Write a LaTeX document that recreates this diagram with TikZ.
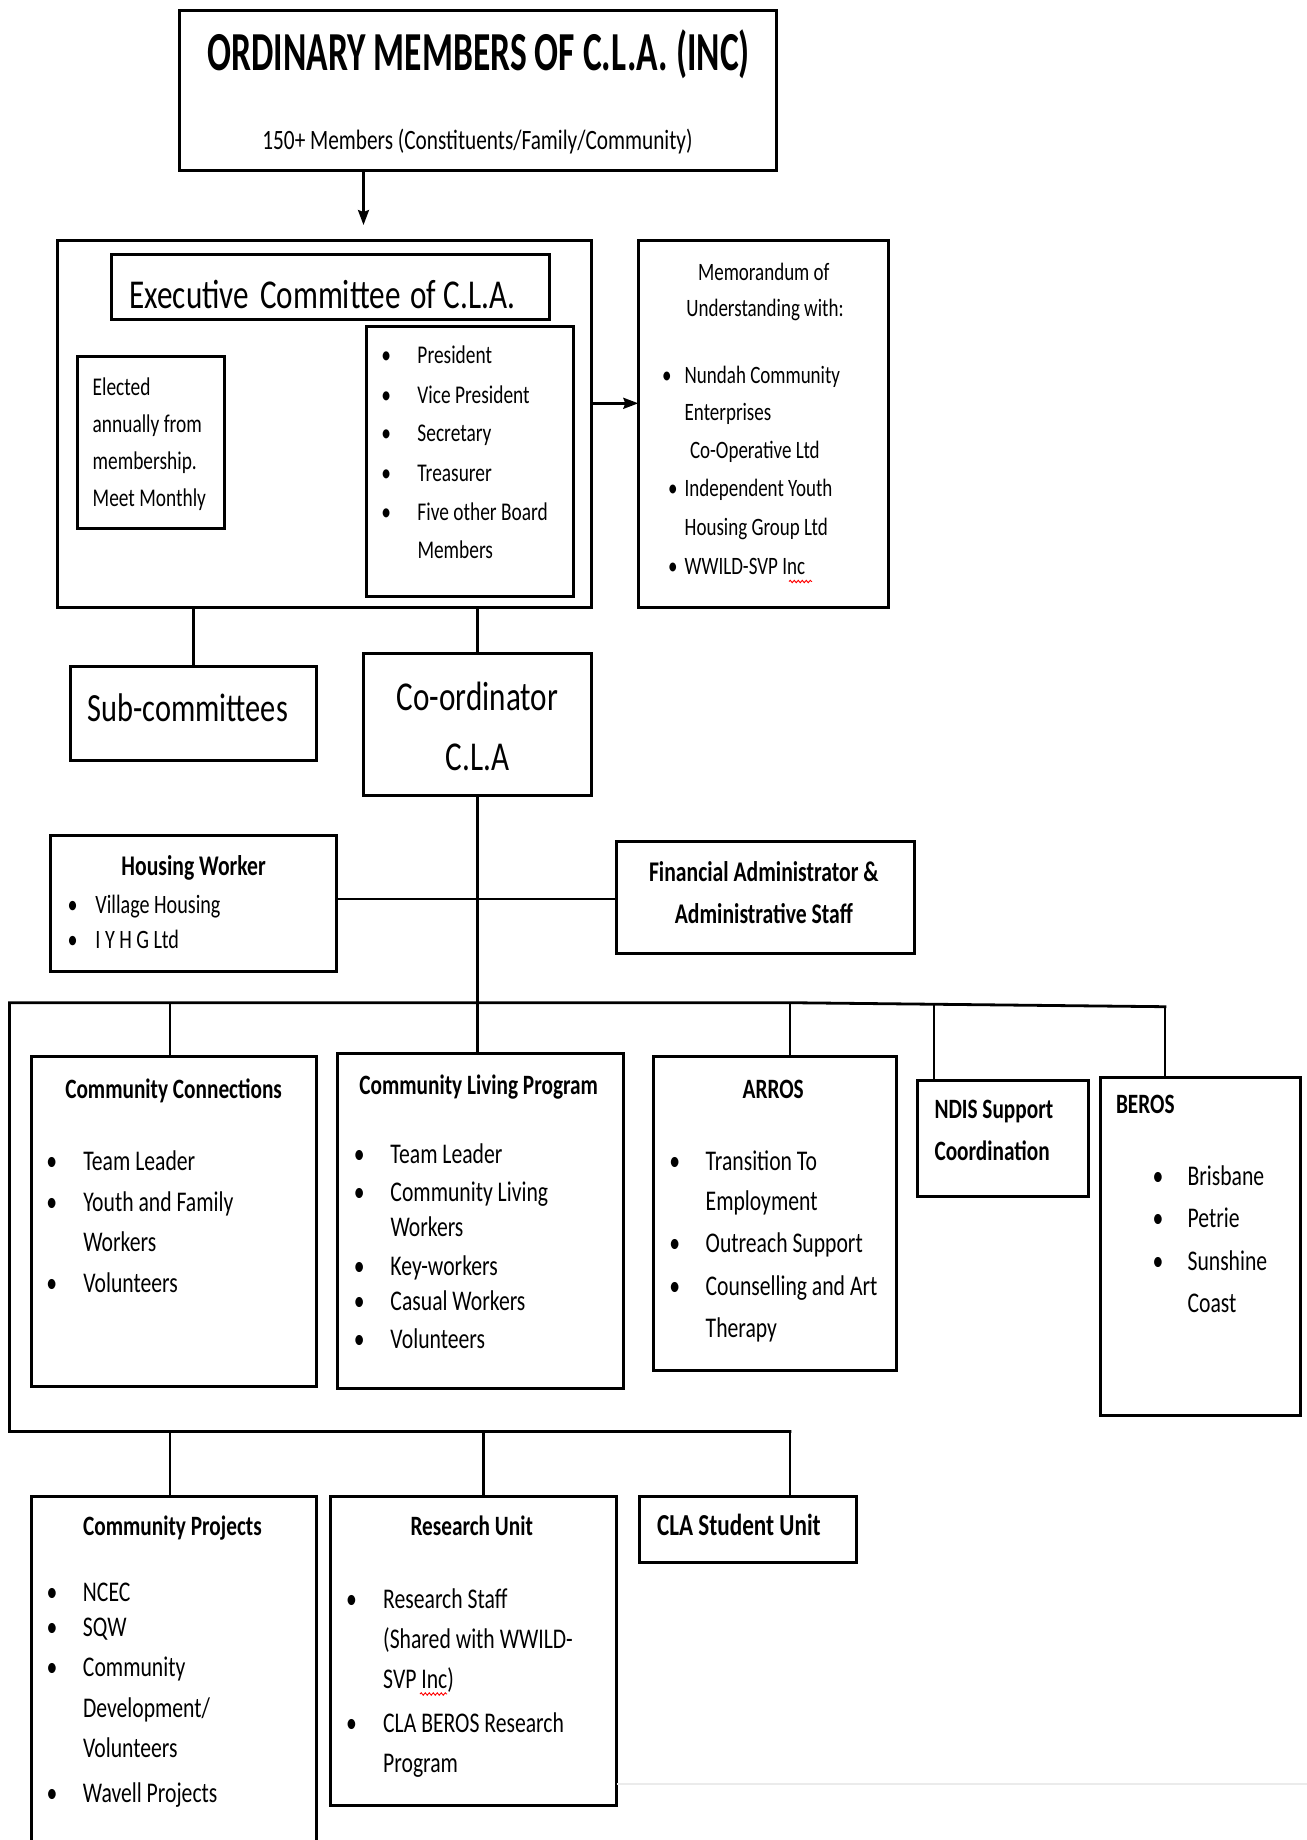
\documentclass[tikz,border=0pt]{standalone}
\usepackage{fontspec}
\usepackage{graphicx}
\setmainfont{Carlito}[FakeStretch=0.76]
\newfontfamily\titlefont{Carlito}[FakeStretch=0.645]
\usetikzlibrary{arrows.meta,decorations.pathmorphing}
\newcommand\fT{\fontsize{28.5}{30}\selectfont}
\newcommand\fH{\fontsize{28}{30}\selectfont\bfseries}
\newcommand\fS{\fontsize{25.5}{30}\selectfont}
\newcommand\fM{\fontsize{25}{30}\selectfont}
\newcommand\fL{\fontsize{41}{45}\selectfont}
\newcommand\mkbox[5]{\node[box, minimum width={#4-#2}, minimum height={#5-#3}] (#1) at (#2,#3) {};}
\newcommand\bli[6]{\node[tx, font=#6] (#1) at ({#2-5},#4) {\makebox[\dimexpr #3pt-#2pt+5pt\relax][l]{•}#5};}
\newcommand\tl[5]{\node[tx, font=#5] (#1) at (#2,#3) {#4};}
\newcommand\tc[5]{\node[tx, anchor=base, font=#5] (#1) at (#2,#3) {#4};}
\begin{document}
\begin{tikzpicture}[x=1pt,y=-1pt,
  box/.style={draw, line width=3pt, inner sep=0pt, outer sep=0pt, anchor=north west},
  tx/.style={inner sep=0pt, outer sep=0pt, anchor=base west},
  conn/.style={line width=2.4pt},
  bus/.style={line width=2.8pt, line cap=rect, line join=miter},
  arr/.style={-{Stealth[length=15pt,width=11pt,inset=2pt]}},
  squig/.style={red, line width=0.9pt, decorate, decoration={snake, amplitude=1.2pt, segment length=4pt}}]
\fill[white] (0,0) rectangle (1307,1840);
\useasboundingbox (0,0) rectangle (1307,1840);
% boxes
\mkbox{top}{179.5}{10.6}{776.7}{170.1}
\mkbox{exec}{57.5}{240.5}{591.3}{607.8}
\mkbox{exectitle}{111.5}{254.6}{549.1}{319.1}
\mkbox{elected}{77.4}{356.7}{224.1}{528}
\mkbox{officers}{366}{326.2}{573.7}{596}
\mkbox{mou}{638.3}{240.5}{888.2}{607.8}
\mkbox{sub}{70.4}{666.4}{316.8}{760.3}
\mkbox{coord}{363.7}{653.5}{591.3}{795.5}
\mkbox{housing}{50.5}{835.4}{336.7}{971.5}
\mkbox{fin}{616}{841.3}{914}{953.9}
\mkbox{cc}{31.7}{1056}{316.8}{1386.9}
\mkbox{clp}{337.9}{1053.6}{623}{1388}
\mkbox{arros}{653.5}{1056}{896.4}{1370.4}
\mkbox{ndis}{917.5}{1080.6}{1088.8}{1196.8}
\mkbox{beros}{1100.6}{1077}{1300}{1415}
\mkbox{cp}{31.7}{1496}{316.8}{1870}
\mkbox{ru}{330.9}{1496}{616}{1805}
\mkbox{stu}{639.5}{1496}{856.5}{1562.8}
% top
\node[tx, anchor=base, font={\titlefont\fontsize{55}{60}\bfseries}] (t0) at (478.7,70) {ORDINARY MEMBERS OF C.L.A. (INC)};
\tc{t1}{477.5}{149.3}{150+ Members (Constituents/Family/Community)}{\fontsize{28}{30}\selectfont}
% executive
\tl{t2}{129.5}{308.3}{Executive\hspace{4pt} Committee\hspace{3pt} of C.L.A.}{\fL}
\tl{e1}{92.7}{395}{Elected}{\fS}
\tl{e2}{92.7}{432.3}{annually from}{\fS}
\tl{e3}{92.7}{469.3}{membership.}{\fS}
\tl{e4}{92.7}{506.7}{Meet Monthly}{\fS}
\bli{o1}{386.4}{417.5}{363.3}{President}{\fS}
\bli{o2}{386.4}{417.5}{403.3}{Vice President}{\fS}
\bli{o3}{386.4}{417.5}{441}{Secretary}{\fS}
\bli{o4}{386.4}{417.5}{481.7}{Treasurer}{\fS}
\bli{o5}{386.4}{417.5}{520}{Five other Board}{\fS}
\tl{o6}{417.5}{558.3}{Members}{\fS}
% MOU
\tc{m1}{763.8}{280.7}{Memorandum of}{\fM}
\tc{m2}{765}{316}{Understanding with:}{\fM}
\bli{m3}{667.2}{684.7}{383.7}{Nundah Community}{\fM}
\tl{m4}{684.7}{420.9}{Enterprises}{\fM}
\tl{m5}{690}{458}{Co-Operative Ltd}{\fM}
\bli{m6}{673.2}{684.7}{496.9}{Independent Youth}{\fM}
\tl{m7}{684.7}{535.7}{Housing Group Ltd}{\fM}
\bli{m8}{673.2}{684.7}{574.6}{WWILD-SVP Inc}{\fM}
% sub / coordinator
\tc{s1}{187.7}{721}{Sub-committees}{\fontsize{40}{44}\selectfont}
\tc{c1}{477.5}{710}{Co-ordinator}{\fL}
\tc{c2}{477.5}{770}{C.L.A}{\fL}
% housing / finance
\tc{h1}{193.6}{875}{Housing Worker}{\fontsize{28.5}{30}\selectfont\bfseries}
\bli{h2}{72.7}{95.4}{913.3}{Village Housing}{\fontsize{26.5}{30}\selectfont}
\bli{h3}{72.7}{95.4}{948.3}{I Y H G Ltd}{\fontsize{26.5}{30}\selectfont}
\tc{f1}{763.8}{881.7}{Financial Administrator \&}{\fontsize{28.5}{30}\selectfont\bfseries}
\tc{f2}{763.8}{923.3}{Administrative Staff}{\fontsize{28.5}{30}\selectfont\bfseries}
% community connections
\tc{cc0}{173.6}{1098.3}{Community Connections}{\fH}
\bli{cc1}{51.3}{83.3}{1170}{Team Leader}{\fT}
\bli{cc2}{51.3}{83.3}{1211.7}{Youth and Family}{\fT}
\tl{cc3}{83.3}{1251.7}{Workers}{\fT}
\bli{cc4}{51.3}{83.3}{1292.7}{Volunteers}{\fT}
% community living program
\tc{clp0}{478.7}{1094}{Community Living Program}{\fH}
\bli{clp1}{358.8}{390.5}{1163.5}{Team Leader}{\fT}
\bli{clp2}{358.8}{390.5}{1201.8}{Community Living}{\fT}
\tl{clp3}{390.5}{1236.9}{Workers}{\fT}
\bli{clp4}{358.8}{390.5}{1275.4}{Key-workers}{\fT}
\bli{clp5}{358.8}{390.5}{1310.8}{Casual Workers}{\fT}
\bli{clp6}{358.8}{390.5}{1348.4}{Volunteers}{\fT}
% ARROS
\tc{ar0}{773.2}{1098.4}{ARROS}{\fH}
\bli{ar1}{674.4}{705.7}{1170}{Transition To}{\fT}
\tl{ar2}{705.7}{1210}{Employment}{\fT}
\bli{ar3}{674.4}{705.7}{1252.5}{Outreach Support}{\fT}
\bli{ar4}{674.4}{705.7}{1295.3}{Counselling and Art}{\fT}
\tl{ar5}{705.7}{1337.3}{Therapy}{\fT}
% NDIS
\tl{nd1}{934.5}{1118.3}{NDIS Support}{\fH}
\tl{nd2}{934.5}{1160.3}{Coordination}{\fH}
% BEROS
\tl{be0}{1116}{1113.5}{BEROS}{\fH}
\bli{be1}{1157.6}{1187.6}{1185.2}{Brisbane}{\fT}
\bli{be2}{1157.6}{1187.6}{1227.2}{Petrie}{\fT}
\bli{be3}{1157.6}{1187.6}{1270.5}{Sunshine}{\fT}
\tl{be4}{1187.6}{1312.5}{Coast}{\fT}
% community projects
\tc{cp0}{172.5}{1535.5}{Community Projects}{\fH}
\bli{cp1}{51.6}{83}{1601.2}{NCEC}{\fT}
\bli{cp2}{51.6}{83}{1636.9}{SQW}{\fT}
\bli{cp3}{51.6}{83}{1676.8}{Community}{\fT}
\tl{cp4}{83}{1717.4}{Development/}{\fT}
\tl{cp5}{83}{1757.4}{Volunteers}{\fT}
\bli{cp6}{51.6}{83}{1802.2}{Wavell Projects}{\fT}
% research unit
\tc{ru0}{471.7}{1535.5}{Research Unit}{\fH}
\bli{ru1}{351.2}{383.2}{1608}{Research Staff}{\fT}
\tl{ru2}{383.2}{1648}{(Shared with WWILD-}{\fT}
\tl{ru3}{383.2}{1688.5}{SVP Inc)}{\fT}
\bli{ru4}{351.2}{383.2}{1732.5}{CLA BEROS Research}{\fT}
\tl{ru5}{383.2}{1772.5}{Program}{\fT}
% student unit
\tl{st0}{657}{1535}{CLA Student Unit}{\fontsize{30.5}{32}\selectfont\bfseries}
% connectors
\coordinate (a1s) at (363.5,0);
\coordinate (a1e) at (363.5,225);
\draw[conn,arr] (top.south -| a1s) -- (a1e);
\coordinate (a2) at (0,403.3);
\draw[conn,arr] (exec.east |- a2) -- (mou.west |- a2);
\draw[conn] (sub.north |- exec.south) -- (sub.north);
\draw[conn] (coord.north |- exec.south) -- (coord.north);
\draw[conn] (coord.south) -- (coord.south |- clp.north);
\coordinate (hf) at (0,898.7);
\draw[conn] (housing.east |- hf) -- (fin.west |- hf);
\coordinate (bL) at (9.4,1002.7);
\coordinate (bM) at (790,1002.7);
\coordinate (bR) at (1165,1006.7);
\coordinate (bBL) at (9.4,1431.5);
\coordinate (bBR) at (790,1431.5);
\draw[bus] (bR) -- (bM) -- (bL) -- (bBL) -- (bBR);
\coordinate (d1) at (170.1,1002.7);
\coordinate (d3) at (934,1004.2);
\coordinate (d5) at (170.1,1431.5);
\coordinate (d6) at (483.4,1431.5);
\draw[conn] (d1) -- (d1 |- cc.north);
\draw[conn] (bM) -- (bM |- arros.north);
\draw[conn] (d3) -- (d3 |- ndis.north);
\draw[conn] (bR) -- (bR |- beros.north);
\draw[conn] (d5) -- (d5 |- cp.north);
\draw[conn] (d6) -- (d6 |- ru.north);
\draw[conn] (bBR) -- (bBR |- stu.north);
% faint page line
\coordinate (g1) at (617,1784);
\coordinate (g2) at (1307,1784);
\draw[black!8, line width=1.5pt] (g1) -- (g2);
% spell-check marks
\coordinate (q1) at (789,581.5);
\coordinate (q2) at (812,581.5);
\draw[squig] (q1) -- (q2);
\coordinate (q3) at (420,1694);
\coordinate (q4) at (447,1694);
\draw[squig] (q3) -- (q4);
\end{tikzpicture}
\end{document}
